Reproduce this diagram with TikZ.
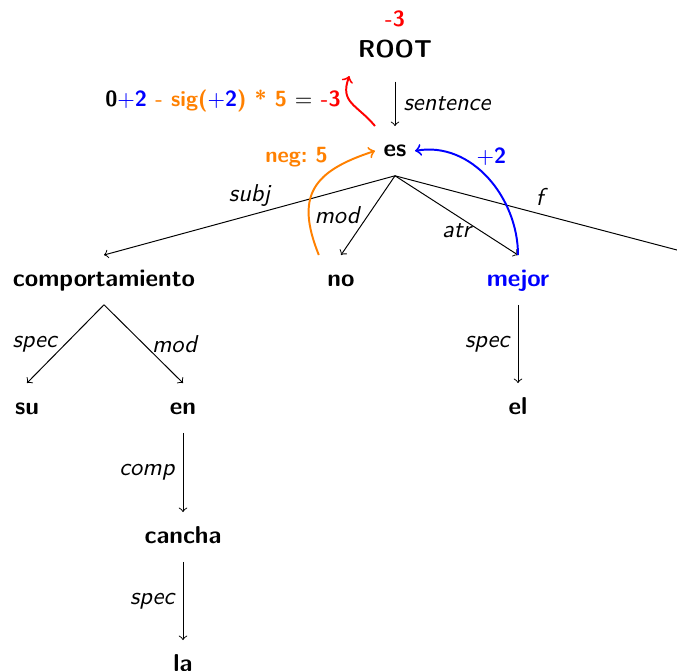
\documentclass[tikz,border=0pt]{standalone}
\usepackage{amsmath}
\usepackage{tikz}
\usetikzlibrary{arrows}

\begin{document}
\frenchspacing
\begin{tikzpicture}[x=0.01441cm,y=-0.01441cm,
    word/.style={font=\sffamily\bfseries, anchor=base, text height=7pt, text depth=2pt, inner ysep=5.5pt},
    val/.style={font=\sffamily\bfseries\small},
    lbl/.style={font=\sffamily\itshape},
    dep/.style={->},
    score/.style={thick, ->}]
  \useasboundingbox (0,0) rectangle (677,671);
  % words
  \node[word] (root) at (395,58) {ROOT};
  \node[word, val, red] (rootval) at (395,27) {-3};
  \node[word] (es) at (395,157) {es};
  \node[word] (comp) at (104,286) {comportamiento};
  \node[word] (no) at (341,286) {no};
  \node[word, blue] (mejor) at (518,286) {mejor};
  \node[word] (su) at (27,414) {su};
  \node[word] (en) at (183,414) {en};
  \node[word] (el) at (518,414) {el};
  \node[word] (cancha) at (183,543) {cancha};
  \node[word] (la) at (183,671) {la};
  \coordinate (punct) at (696,255);
  % dependencies
  \draw[dep] ([yshift=-2pt]root.south) -- (es.north) node[midway, right, lbl] {sentence};
  \draw[dep] (es.south) -- (comp.north) node[midway, above, lbl] {subj};
  \draw[dep] (es.south) -- (no.north) node[midway, left, lbl] {mod};
  \draw[dep] (es.south) -- (mejor.north) node[midway, below, lbl] {atr};
  \draw[dep] (es.south) -- (punct) node[pos=.48, above, lbl] {f};
  \draw[dep] (comp.south) -- (su.north) node[midway, left, lbl] {spec};
  \draw[dep] (comp.south) -- (en.north) node[midway, right, lbl] {mod};
  \draw[dep] (en.south) -- (cancha.north) node[midway, left, lbl] {comp};
  \draw[dep] (cancha.south) -- (la.north) node[midway, left, lbl] {spec};
  \draw[dep] (mejor.south) -- (el.north) node[midway, left, lbl] {spec};
  % scores
  \node[word, val] (sum) at (223,107) {0\textcolor{blue}{$+$2} \textcolor{orange}{- sig(}\textcolor{blue}{$+$2}\textcolor{orange}{) * 5} $=$ \textcolor{red}{-3}};
  \draw[score, blue] (mejor.north) to[out=90, in=10]
    node[pos=.6, anchor=south west, inner sep=0pt, val] {$+$2} (es.east);
  \draw[score, orange] (no.north west) to[out=112, in=-162, looseness=1.4]
    node[pos=.7, anchor=south east, inner sep=1pt, val] {neg: 5} (es.west);
  \draw[score, red] (es.north west) to[out=130, in=-110, looseness=1.3] (sum.north east);
\end{tikzpicture}
\end{document}
